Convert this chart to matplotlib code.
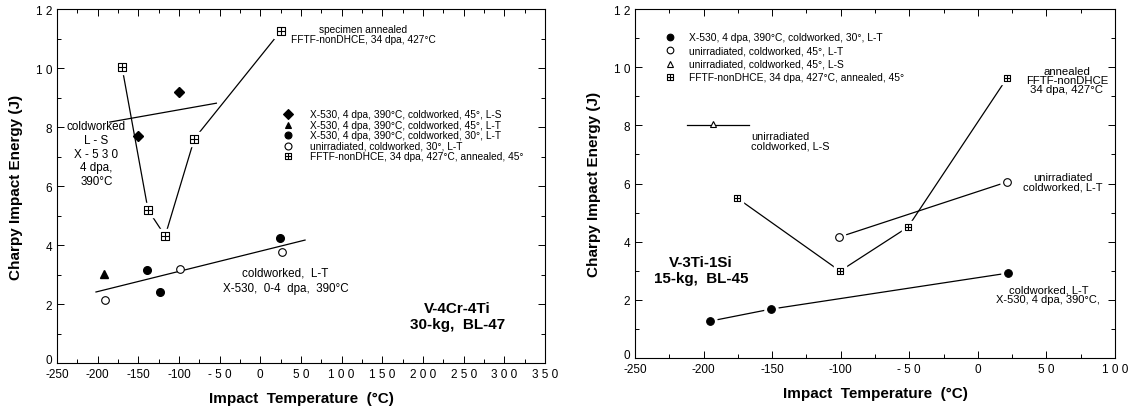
import numpy as np
import matplotlib
matplotlib.use("Agg")
import matplotlib.pyplot as plt
from matplotlib.path import Path

plt.rcParams['font.family'] = ['Liberation Sans', 'DejaVu Sans']

# ---- left panel: V-4Cr-4Ti, 30-kg, BL-47 ----
ls_t = [-150, -100]
ls_e = [7.7, 9.2]
ls_fit_t = [-185, -54]
ls_fit_e = [8.17, 8.81]
lt45_t = [-192]
lt45_e = [3.02]
lt30_t = [-139, -123, 24]
lt30_e = [3.15, 2.41, 4.24]
unirr_t = [-191, -99, 27]
unirr_e = [2.13, 3.19, 3.76]
lt_fit_t = [-202, 55]
lt_fit_e = [2.41, 4.17]
fftf_t = [-170, -138, -117, -81, 25]
fftf_e = [10.03, 5.19, 4.31, 7.61, 11.25]

left_xticks = [-250, -200, -150, -100, -50, 0, 50, 100, 150, 200, 250, 300, 350]
left_xlabels = ['-250', '-200', '-150', '-100', '- 5 0', '0', '5 0', '1 0 0', '1 5 0',
                '2 0 0', '2 5 0', '3 0 0', '3 5 0']

# ---- right panel: V-3Ti-1Si, 15-kg, BL-45 ----
r_x530_t = [-195, -151, 22]
r_x530_e = [1.27, 1.68, 2.92]
r_unirr_lt_t = [-101, 21]
r_unirr_lt_e = [4.16, 6.05]
r_unirr_ls_t = [-193]
r_unirr_ls_e = [8.05]
r_ls_fit_t = [-212, -167]
r_ls_fit_e = [8.02, 8.02]
r_fftf_t = [-175.5, -100.5, -51, 21.3]
r_fftf_e = [5.5, 2.99, 4.5, 9.63]

right_xticks = [-250, -200, -150, -100, -50, 0, 50, 100]
right_xlabels = ['-250', '-200', '-150', '-100', '- 5 0', '0', '5 0', '1 0 0']

yticks = [0, 2, 4, 6, 8, 10, 12]
ylabels = ['0', '2', '4', '6', '8', '1 0', '1 2']

# square with a cross inside
verts = [(-1, -1), (1, -1), (1, 1), (-1, 1), (-1, -1),
         (0, -1), (0, 1), (-1, 0), (1, 0)]
codes = [Path.MOVETO, Path.LINETO, Path.LINETO, Path.LINETO, Path.CLOSEPOLY,
         Path.MOVETO, Path.LINETO, Path.MOVETO, Path.LINETO]
box = Path(verts, codes)


def gapped(ax, t, e, marker, ms, face):
    # line, then a white halo so the line stops short of the marker, then the marker
    ax.plot(t, e, color='black', lw=0.9, zorder=2)
    ax.plot(t, e, ls='none', marker=marker, ms=ms + 4, mfc='white', mec='white', zorder=3)
    ax.plot(t, e, ls='none', marker=marker, ms=ms, mfc=face, mec='black', mew=0.8, zorder=4)


def style(ax, xlim, xticks, xlabels):
    ax.set_xlim(xlim)
    ax.set_ylim(0, 12)
    ax.set_xticks(xticks)
    ax.set_xticklabels(xlabels)
    ax.set_xticks(np.arange(xlim[0], xlim[1] + 1, 25), minor=True)
    ax.set_yticks(yticks)
    ax.set_yticklabels(ylabels)
    ax.set_yticks(range(0, 13), minor=True)
    ax.tick_params(which='both', direction='in', top=True, right=True, labelsize=8.5, width=0.7)
    ax.tick_params(which='major', length=5)
    ax.tick_params(which='minor', length=3)
    # the origin "0" sits just above the "-250" label
    ax.yaxis.get_major_ticks()[0].label1.set_verticalalignment('baseline')
    for s in ax.spines.values():
        s.set_linewidth(0.8)
    ax.set_xlabel('Impact  Temperature  (°C)', fontsize=11, fontweight='bold', labelpad=8)
    ax.set_ylabel('Charpy Impact Energy (J)', fontsize=11, fontweight='bold', labelpad=9)


fig = plt.figure(figsize=(11.39, 4.10), dpi=100)
ax1 = fig.add_axes([0.050, 0.112, 0.4285, 0.8634])
ax2 = fig.add_axes([0.5575, 0.1244, 0.4214, 0.851])

# left
ax1.plot(ls_fit_t, ls_fit_e, color='black', lw=0.9)
ax1.plot(lt_fit_t, lt_fit_e, color='black', lw=0.9)
ax1.plot(ls_t, ls_e, ls='none', marker='D', ms=5.5, color='black')
ax1.plot(lt45_t, lt45_e, ls='none', marker='^', ms=5.5, color='black')
ax1.plot(lt30_t, lt30_e, ls='none', marker='o', ms=5.5, color='black')
ax1.plot(unirr_t, unirr_e, ls='none', marker='o', ms=5.5, mfc='white', mec='black', mew=0.8)
gapped(ax1, fftf_t, fftf_e, box, 5.5, 'white')
style(ax1, (-250, 350), left_xticks, left_xlabels)

leg_rows = [('D', 'black', 'X-530, 4 dpa, 390°C, coldworked, 45°, L-S'),
            ('^', 'black', 'X-530, 4 dpa, 390°C, coldworked, 45°, L-T'),
            ('o', 'black', 'X-530, 4 dpa, 390°C, coldworked, 30°, L-T'),
            ('o', 'white', 'unirradiated, coldworked, 30°, L-T'),
            (box, 'white', 'FFTF-nonDHCE, 34 dpa, 427°C, annealed, 45°')]
for i, (m, fc, txt) in enumerate(leg_rows):
    yy = 0.703 - i * 0.0295
    ax1.plot([0.473], [yy], transform=ax1.transAxes, marker=m, ms=5, mfc=fc, mec='black',
             mew=0.8, ls='none', clip_on=False)
    ax1.text(0.518, yy, txt, transform=ax1.transAxes, fontsize=7.3, va='center')

ax1.text(0.628, 0.929, 'specimen annealed\nFFTF-nonDHCE, 34 dpa, 427°C', transform=ax1.transAxes,
         fontsize=7.3, ha='center', va='center', linespacing=0.95)
ax1.text(0.081, 0.592, 'coldworked\nL - S\nX - 5 3 0\n4 dpa,\n390°C', transform=ax1.transAxes,
         fontsize=8.4, ha='center', va='center', linespacing=1.18)
ax1.text(0.468, 0.234, 'coldworked,  L-T\nX-530,  0-4  dpa,  390°C', transform=ax1.transAxes,
         fontsize=8.4, ha='center', va='center', linespacing=1.33)
ax1.text(0.821, 0.134, 'V-4Cr-4Ti\n30-kg,  BL-47', transform=ax1.transAxes,
         fontsize=11, fontweight='bold', ha='center', va='center', linespacing=1.2)

# right
ax2.plot(r_ls_fit_t, r_ls_fit_e, color='black', lw=0.9)
ax2.plot(r_unirr_ls_t, r_unirr_ls_e, ls='none', marker='^', ms=5, mfc='white', mec='black', mew=0.8)
gapped(ax2, r_x530_t, r_x530_e, 'o', 5.5, 'black')
gapped(ax2, r_unirr_lt_t, r_unirr_lt_e, 'o', 5.5, 'white')
gapped(ax2, r_fftf_t, r_fftf_e, box, 5.0, 'white')
style(ax2, (-250, 100), right_xticks, right_xlabels)

r_leg_rows = [('o', 'black', 'X-530, 4 dpa, 390°C, coldworked, 30°, L-T'),
              ('o', 'white', 'unirradiated, coldworked, 45°, L-T'),
              ('^', 'white', 'unirradiated, coldworked, 45°, L-S'),
              (box, 'white', 'FFTF-nonDHCE, 34 dpa, 427°C, annealed, 45°')]
for i, (m, fc, txt) in enumerate(r_leg_rows):
    yy = 0.921 - i * 0.039
    ax2.plot([0.073], [yy], transform=ax2.transAxes, marker=m, ms=4.8, mfc=fc, mec='black',
             mew=0.8, ls='none', clip_on=False)
    ax2.text(0.1125, yy, txt, transform=ax2.transAxes, fontsize=7.4, va='center')

ax2.text(0.242, 0.622, 'unirradiated\ncoldworked, L-S', transform=ax2.transAxes,
         fontsize=7.8, ha='left', va='center', linespacing=0.9)
ax2.text(0.9, 0.797, 'annealed\nFFTF-nonDHCE\n34 dpa, 427°C', transform=ax2.transAxes,
         fontsize=8.2, ha='center', va='center', linespacing=0.9)
ax2.text(0.892, 0.506, 'unirradiated\ncoldworked, L-T', transform=ax2.transAxes,
         fontsize=8.0, ha='center', va='center', linespacing=0.9)
ax2.text(0.861, 0.183, 'coldworked, L-T\nX-530, 4 dpa, 390°C,', transform=ax2.transAxes,
         fontsize=8.0, ha='center', va='center', linespacing=0.9)
ax2.text(0.1375, 0.252, 'V-3Ti-1Si\n15-kg,  BL-45', transform=ax2.transAxes,
         fontsize=10.9, fontweight='bold', ha='center', va='center', linespacing=1.2)

fig.savefig('out.png', dpi=100)
